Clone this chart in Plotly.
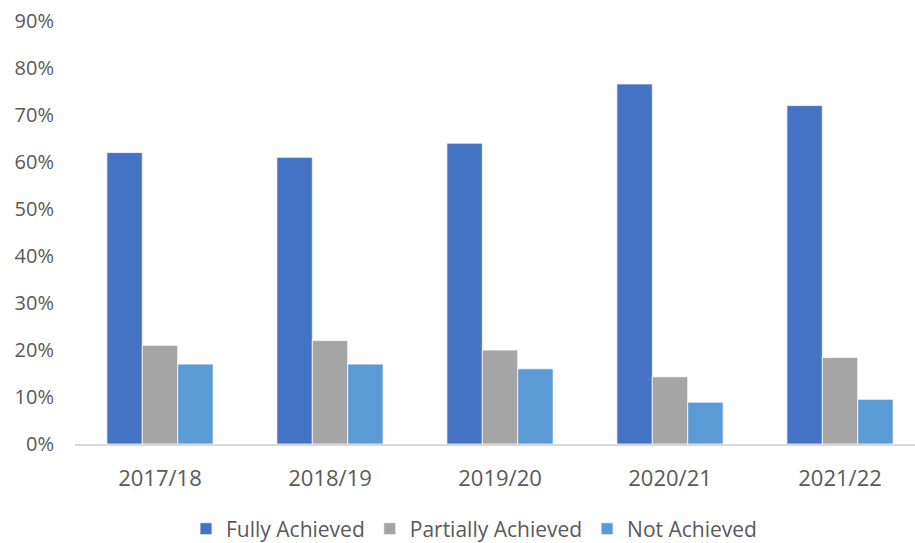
import plotly.graph_objects as go

years = ["2017/18", "2018/19", "2019/20", "2020/21", "2021/22"]
fully = [0.62, 0.61, 0.64, 0.766, 0.72]
partially = [0.21, 0.22, 0.20, 0.143, 0.184]
not_achieved = [0.17, 0.17, 0.16, 0.089, 0.095]
y_ticks = [0, 0.1, 0.2, 0.3, 0.4, 0.5, 0.6, 0.7, 0.8, 0.9]
y_tick_text = ["0%", "10%", "20%", "30%", "40%", "50%", "60%", "70%", "80%", "90%"]

series_names = ["Fully Achieved", "Partially Achieved", "Not Achieved"]
colors = ["#4472C4", "#A5A5A5", "#5B9BD5"]

fig = go.Figure()
for name, vals, col in zip(series_names, [fully, partially, not_achieved], colors):
    fig.add_trace(go.Bar(
        x=years, y=vals, name=name,
        marker=dict(color=col, line=dict(color="white", width=0.75)),
    ))

font_family = "Open Sans, Segoe UI, Arial, sans-serif"
fig.update_layout(
    width=915, height=543,
    margin=dict(l=75, r=0, t=21, b=99, autoexpand=False),
    paper_bgcolor="white", plot_bgcolor="white",
    barmode="group", bargap=0.375, bargroupgap=0,
    font=dict(family=font_family, size=20, color="#595959"),
    showlegend=True,
    legend=dict(
        orientation="h", x=0.475, xanchor="center", y=-0.201, yanchor="middle",
        font=dict(size=21, color="#595959"),
        itemwidth=30,
    ),
    xaxis=dict(
        range=[-0.5, 4.441], showline=True, linecolor="#D9D9D9", linewidth=1.5,
        showgrid=False, ticks="", ticklabelstandoff=14, zeroline=False,
        automargin=False, tickfont=dict(size=22),
    ),
    yaxis=dict(
        range=[0, 0.9], tickvals=y_ticks, ticktext=y_tick_text,
        showgrid=False, zeroline=False, showline=False, ticks="",
        ticklabelstandoff=20, automargin=False,
    ),
)

fig.write_html(
    "out.html",
    config={"displayModeBar": False},
    post_script="document.body.style.margin='0';document.body.style.overflow='hidden';",
)
